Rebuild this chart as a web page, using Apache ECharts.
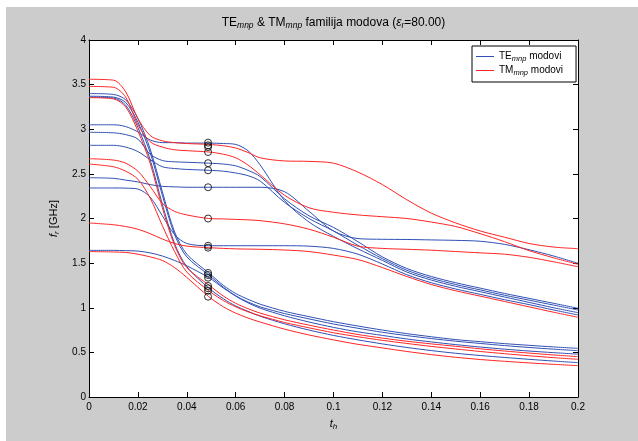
<!DOCTYPE html>
<html><head><meta charset="utf-8">
<script src="https://cdn.jsdelivr.net/npm/echarts@6/dist/echarts.min.js"></script>
<style>
html,body{margin:0;padding:0;background:#fff;}
#c{position:absolute;left:6px;top:7px;width:632px;height:434px;}
</style></head>
<body><div id="c"></div>
<script>
// shared x samples (t_h)
const X = [0, 0.01, 0.015, 0.02, 0.025, 0.03, 0.035, 0.04, 0.049, 0.055, 0.06, 0.065, 0.07, 0.08, 0.09, 0.1, 0.11, 0.12, 0.13, 0.14, 0.15, 0.16, 0.17, 0.18, 0.19, 0.2];
// TE modes (blue)
const teA  = [3.05, 3.05, 3.03, 2.97, 2.88, 2.85, 2.85, 2.845, 2.845, 2.84, 2.83, 2.76, 2.6, 2.2, 1.96, 1.80, 1.66, 1.53, 1.40, 1.31, 1.24, 1.18, 1.12, 1.06, 1.0, 0.945];
const teB  = [2.966, 2.96, 2.94, 2.89, 2.72, 2.65, 2.635, 2.63, 2.62, 2.61, 2.59, 2.54, 2.47, 2.22, 2.03, 1.90, 1.74, 1.57, 1.44, 1.35, 1.28, 1.22, 1.16, 1.105, 1.05, 0.994];
const teC  = [2.82, 2.82, 2.80, 2.75, 2.66, 2.58, 2.56, 2.55, 2.54, 2.53, 2.51, 2.48, 2.42, 2.18, 2.0, 1.86, 1.70, 1.55, 1.42, 1.33, 1.26, 1.20, 1.14, 1.085, 1.03, 0.975];
const teD  = [2.457, 2.45, 2.43, 2.41, 2.38, 2.36, 2.355, 2.35, 2.35, 2.35, 2.35, 2.35, 2.35, 2.3, 2.08, 1.86, 1.775, 1.767, 1.765, 1.76, 1.755, 1.745, 1.71, 1.65, 1.58, 1.498];
const teE  = [2.342, 2.342, 2.34, 2.33, 2.24, 2.03, 1.82, 1.72, 1.695, 1.695, 1.695, 1.695, 1.695, 1.695, 1.69, 1.665, 1.60, 1.49, 1.37, 1.28, 1.21, 1.15, 1.09, 1.035, 0.975, 0.919];
const teL1 = [3.40, 3.39, 3.33, 3.12, 2.78, 2.30, 1.85, 1.60, 1.39, 1.25, 1.16, 1.095, 1.04, 0.96, 0.90, 0.844, 0.795, 0.75, 0.71, 0.675, 0.643, 0.62, 0.598, 0.579, 0.561, 0.545];
const teL2 = [3.37, 3.36, 3.30, 3.08, 2.74, 2.26, 1.82, 1.57, 1.367, 1.23, 1.135, 1.065, 1.01, 0.935, 0.875, 0.818, 0.77, 0.725, 0.688, 0.655, 0.625, 0.60, 0.576, 0.555, 0.536, 0.519];
const teL3 = [1.643, 1.643, 1.64, 1.635, 1.615, 1.58, 1.53, 1.47, 1.337, 1.22, 1.13, 1.055, 0.995, 0.91, 0.84, 0.78, 0.73, 0.69, 0.65, 0.617, 0.587, 0.56, 0.536, 0.515, 0.497, 0.48];
const teL4 = [3.36, 3.35, 3.27, 3.02, 2.66, 2.16, 1.72, 1.46, 1.22, 1.10, 1.02, 0.96, 0.905, 0.82, 0.75, 0.69, 0.64, 0.595, 0.555, 0.52, 0.49, 0.465, 0.443, 0.422, 0.403, 0.385];
// TM modes (red)
const tmU1 = [3.56, 3.55, 3.42, 3.12, 2.93, 2.87, 2.85, 2.84, 2.83, 2.815, 2.79, 2.74, 2.68, 2.645, 2.64, 2.62, 2.52, 2.38, 2.21, 2.06, 1.95, 1.86, 1.79, 1.72, 1.68, 1.662];
const tmU2 = [3.48, 3.47, 3.36, 3.05, 2.86, 2.80, 2.77, 2.76, 2.745, 2.72, 2.68, 2.60, 2.49, 2.26, 2.12, 2.07, 2.04, 2.02, 2.0, 1.96, 1.91, 1.83, 1.74, 1.64, 1.56, 1.487];
const tmU3 = [2.67, 2.655, 2.62, 2.53, 2.36, 2.17, 2.08, 2.04, 2.0, 1.995, 1.99, 1.985, 1.976, 1.94, 1.88, 1.79, 1.69, 1.665, 1.655, 1.645, 1.63, 1.615, 1.60, 1.565, 1.515, 1.46];
const tmU4 = [1.95, 1.93, 1.91, 1.88, 1.83, 1.77, 1.72, 1.69, 1.673, 1.665, 1.66, 1.657, 1.655, 1.647, 1.63, 1.59, 1.54, 1.45, 1.35, 1.26, 1.19, 1.13, 1.07, 1.01, 0.95, 0.893];
const tmL1 = [3.354, 3.34, 3.25, 2.98, 2.62, 2.12, 1.70, 1.45, 1.255, 1.13, 1.05, 0.99, 0.94, 0.865, 0.805, 0.75, 0.70, 0.66, 0.625, 0.595, 0.568, 0.54, 0.515, 0.492, 0.471, 0.452];
const tmL2 = [2.61, 2.58, 2.53, 2.44, 2.23, 1.92, 1.63, 1.40, 1.19, 1.08, 1.01, 0.955, 0.91, 0.835, 0.775, 0.72, 0.675, 0.635, 0.60, 0.567, 0.538, 0.51, 0.485, 0.462, 0.441, 0.422];
const tmL3 = [1.63, 1.625, 1.62, 1.60, 1.57, 1.53, 1.45, 1.34, 1.124, 1.01, 0.94, 0.885, 0.84, 0.76, 0.695, 0.64, 0.59, 0.55, 0.51, 0.475, 0.445, 0.42, 0.40, 0.382, 0.366, 0.351];
// marker circles at t_h = circleX
const circleX = 0.0487;
const circleY = [2.85, 2.82, 2.80, 2.745, 2.62, 2.54, 2.35, 2.0, 1.695, 1.673, 1.39, 1.367, 1.337, 1.244, 1.218, 1.191, 1.124];

const TE = [teA, teB, teC, teD, teE, teL1, teL2, teL3, teL4];
const TM = [tmU1, tmU2, tmU3, tmU4, tmL1, tmL2, tmL3];

const BLUE = '#2f50b4', RED = '#ff2424';
const FONT = '"Liberation Sans", Arial, sans-serif';
const sub = {fontSize: 8, lineHeight: 8, fontStyle: 'italic', fontFamily: FONT, color: '#000', padding: [6, 0, 0, 0]};
const nrm = {fontSize: 11, lineHeight: 13, fontFamily: FONT, color: '#000'};
const ita = {fontSize: 11, lineHeight: 13, fontFamily: FONT, color: '#000', fontStyle: 'italic'};
const richT = {n: nrm, i: ita, s: sub};
const richTitle = {
  n: {fontSize: 12, lineHeight: 14, fontFamily: FONT, color: '#000'},
  i: {fontSize: 12, lineHeight: 14, fontFamily: FONT, color: '#000', fontStyle: 'italic'},
  s: {fontSize: 8.5, lineHeight: 9, fontStyle: 'italic', fontFamily: FONT, color: '#000', padding: [6, 0, 0, 0]}
};
const lnrm = {fontSize: 10, lineHeight: 12, fontFamily: FONT, color: '#000'};
const lsub = {fontSize: 7.5, lineHeight: 8, fontStyle: 'italic', fontFamily: FONT, color: '#000', padding: [5, 0, 0, 0]};

function mk(arr, name, color) {
  return {
    type: 'line', name: name, data: X.map((x, i) => [x, arr[i]]),
    symbol: 'none', showSymbol: false, smooth: 0.3,
    lineStyle: {width: 1, color: color}, itemStyle: {color: color},
    emphasis: {disabled: true}, silent: true
  };
}
const series = [];
TE.forEach(a => series.push(mk(a, 'TE', BLUE)));
TM.forEach(a => series.push(mk(a, 'TM', RED)));
series.push({
  type: 'scatter', name: 'o', data: circleY.map(y => [circleX, y]),
  symbol: 'circle', symbolSize: 7,
  itemStyle: {color: 'rgba(0,0,0,0)', borderColor: '#000', borderWidth: 1}, z: 5, silent: true
});

const axisBase = {
  type: 'value', splitLine: {show: false},
  axisLine: {show: true, onZero: false, lineStyle: {color: '#000', width: 1}},
  axisTick: {show: true, inside: true, length: 5, lineStyle: {color: '#000'}}
};
const fmt = v => String(+v.toFixed(2));

const chart = echarts.init(document.getElementById('c'));
chart.setOption({
  animation: false,
  backgroundColor: '#cccccc',
  grid: {left: 83, top: 33, width: 489, height: 357, show: true, backgroundColor: '#fff', borderWidth: 0},
  xAxis: [
    Object.assign({}, axisBase, {min: 0, max: 0.2, interval: 0.02, position: 'bottom',
      axisLabel: {color: '#000', fontSize: 10, fontFamily: FONT, margin: 5, formatter: fmt},
      name: '{i|t}{s|h}', nameLocation: 'middle', nameGap: 15, nameTextStyle: {rich: richT}}),
    Object.assign({}, axisBase, {min: 0, max: 0.2, interval: 0.02, position: 'top', axisLabel: {show: false}})
  ],
  yAxis: [
    Object.assign({}, axisBase, {min: 0, max: 4, interval: 0.5, position: 'left',
      axisLabel: {color: '#000', fontSize: 10, fontFamily: FONT, margin: 3, formatter: fmt},
      name: '{i|f}{s|r}{n| [GHz]}', nameLocation: 'middle', nameGap: 27, nameTextStyle: {rich: richT}}),
    Object.assign({}, axisBase, {min: 0, max: 4, interval: 0.5, position: 'right', axisLabel: {show: false}})
  ],
  legend: {
    data: ['TE', 'TM'], orient: 'vertical', left: 466, top: 39,
    selectedMode: false, icon: 'rect', itemWidth: 18, itemHeight: 1, itemGap: 1,
    padding: [4, 13, 5, 4], backgroundColor: '#fff', borderColor: '#000', borderWidth: 1, borderRadius: 0,
    formatter: n => '{n|' + n + '}{s|mnp}{n| modovi}',
    textStyle: {rich: {n: lnrm, s: lsub}}
  },
  graphic: [{
    type: 'text', x: 327.5, y: 16, silent: true,
    style: {
      text: '{n|TE}{s|mnp}{n| & TM}{s|mnp}{n| familija modova (}{i|ε}{s|r}{n|=80.00)}',
      rich: richTitle, align: 'center', verticalAlign: 'middle'
    }
  }],
  series: series
});
</script>
</body></html>
